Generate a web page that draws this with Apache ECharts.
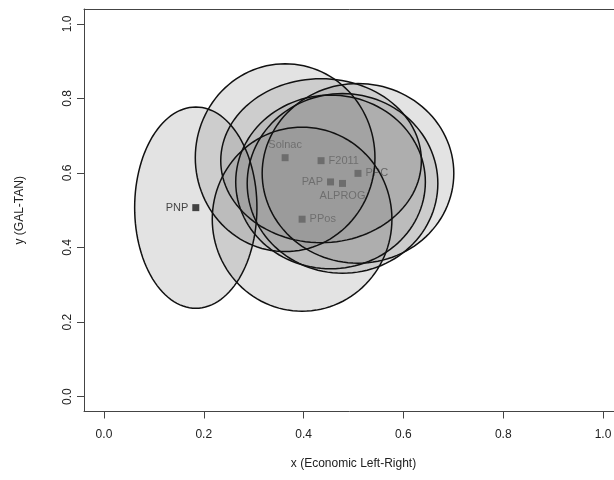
<!DOCTYPE html>
<html>
<head>
<meta charset="utf-8">
<script src="https://cdn.jsdelivr.net/npm/echarts@6/dist/echarts.min.js"></script>
<style>
html,body{margin:0;padding:0;background:#fff;}
#chart{width:614px;height:480px;}
</style>
</head>
<body>
<div id="chart"></div>
<script>
// ---- data ----
const parties = ['PNP', 'Solnac', 'F2011', 'PPC', 'PAP', 'ALPROG', 'PPos'];
const xEcon  = [0.184, 0.363, 0.435, 0.509, 0.454, 0.478, 0.397];
const yGalTan = [0.507, 0.641, 0.633, 0.599, 0.576, 0.572, 0.476];
const xSpread = [0.1225, 0.180, 0.201, 0.192, 0.190, 0.191, 0.180];
const ySpread = [0.270, 0.252, 0.220, 0.241, 0.233, 0.241, 0.247];
const tickValues = [0, 0.2, 0.4, 0.6, 0.8, 1.0];

// ---- label placement (style) ----
const labelPlacement = {
  PNP: 'left', Solnac: 'top', F2011: 'right', PPC: 'right',
  PAP: 'left', ALPROG: 'bottom', PPos: 'right'
};

const pointData = parties.map((p, i) => ({
  name: p,
  value: [xEcon[i], yGalTan[i]],
  label: { position: labelPlacement[p] }
}));
const ellipseData = parties.map((p, i) => ({
  name: p,
  value: [xEcon[i], yGalTan[i], xSpread[i], ySpread[i]]
}));

const FONT = 'Liberation Sans, Arial, sans-serif';
const axisCommon = {
  type: 'value', min: -0.04, max: 1.04,
  splitLine: { show: false },
  axisLine: { show: true, onZero: false, lineStyle: { color: '#444', width: 1 } },
  axisTick: { show: true, customValues: tickValues, length: 7, lineStyle: { color: '#444' } },
  axisLabel: {
    customValues: tickValues,
    formatter: v => v.toFixed(1),
    color: '#222', fontSize: 12, fontFamily: FONT
  },
  nameTextStyle: { color: '#222', fontSize: 12, fontFamily: FONT }
};

function ellipseRenderer(withFill) {
  return function (params, api) {
    const cx = api.value(0), cy = api.value(1), rx = api.value(2), ry = api.value(3);
    const pts = [];
    const n = 120;
    for (let k = 0; k < n; k++) {
      const t = 2 * Math.PI * k / n;
      pts.push(api.coord([cx + rx * Math.cos(t), cy + ry * Math.sin(t)]));
    }
    return {
      type: 'polygon',
      shape: { points: pts },
      style: withFill
        ? { fill: 'rgba(128,128,128,0.22)', stroke: null, lineWidth: 0 }
        : { fill: null, stroke: '#111', lineWidth: 1.5 }
    };
  };
}

const chart = echarts.init(document.getElementById('chart'), null, { renderer: 'canvas' });
chart.setOption({
  animation: false,
  backgroundColor: '#fff',
  grid: {
    left: 84, top: 9, width: 539, height: 402.5,
    outerBoundsMode: 'none', containLabel: false, show: false
  },
  xAxis: [
    Object.assign({}, axisCommon, {
      position: 'bottom',
      name: 'x (Economic Left-Right)', nameLocation: 'middle', nameGap: 46,
      axisLabel: Object.assign({}, axisCommon.axisLabel, { margin: 17 })
    }),
    {
      type: 'value', min: -0.04, max: 1.04, position: 'top',
      splitLine: { show: false },
      axisLine: { show: true, onZero: false, lineStyle: { color: '#444', width: 1 } },
      axisTick: { show: false }, axisLabel: { show: false }
    }
  ],
  yAxis: Object.assign({}, axisCommon, {
    position: 'left',
    name: 'y (GAL-TAN)', nameLocation: 'middle', nameGap: 58,
    axisLabel: Object.assign({}, axisCommon.axisLabel, { margin: 10, rotate: 90 })
  }),
  series: [
    {
      type: 'scatter',
      z: 2,
      symbol: 'rect',
      symbolSize: 7,
      itemStyle: { color: '#000' },
      label: {
        show: true, formatter: '{b}', distance: 4,
        color: '#000', fontSize: 11, fontFamily: FONT
      },
      data: pointData
    },
    {
      type: 'custom',
      z: 5,
      coordinateSystem: 'cartesian2d',
      silent: true,
      renderItem: ellipseRenderer(true),
      data: ellipseData
    },
    {
      type: 'custom',
      z: 6,
      coordinateSystem: 'cartesian2d',
      silent: true,
      renderItem: ellipseRenderer(false),
      data: ellipseData
    }
  ]
});
</script>
</body>
</html>
